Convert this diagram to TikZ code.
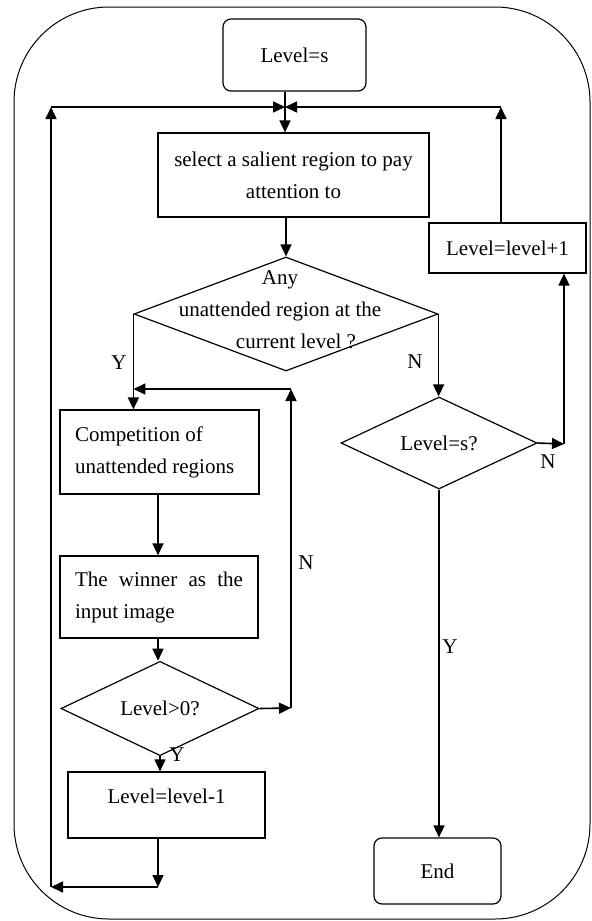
\documentclass[tikz,border=0pt]{standalone}
\usepackage{fontspec}
\setmainfont{Liberation Serif}
\usepackage{tikz}
\usetikzlibrary{arrows.meta,shapes.geometric}

\tikzset{
  flowbox/.style={draw, line width=0.6pt, inner sep=0pt, align=center},
  endbox/.style={flowbox, rounded corners=4pt},
  decision/.style={draw, diamond, line width=0.6pt, inner sep=0pt},
  arr/.style={line width=0.8pt, -{Triangle[length=6pt,width=5.5pt]}},
  yn/.style={inner sep=0pt}
}

\begin{document}
\begin{tikzpicture}[x=0.5pt, y=-0.5pt, font=\fontsize{10.5pt}{16pt}\selectfont]
  \useasboundingbox (0,0) rectangle (591,921);
  \draw[line width=0.5pt, rounded corners=47.5pt] (14,7) rectangle (590,919);

  % boxes
  \node[endbox, minimum width=71.5pt, minimum height=36pt] (start) at (294.5,55) {Level=s};
  \node[flowbox, minimum width=135.5pt, minimum height=42pt] (sel) at (293.5,175)
    {select a salient region to pay\\attention to};
  \node[decision, minimum width=152pt, minimum height=57pt] (any) at (286,314) {};
  \node[align=center, inner sep=0pt] (anytxt) at (280,309.5)
    {Any\\unattended region at the\hspace*{15pt}\\\hspace*{16pt}current level ?};
  \node[flowbox, minimum width=78.5pt, minimum height=25pt] (lp1) at (507.5,248) {Level=level+1};
  \node[decision, minimum width=98pt, minimum height=33pt] (lvs) at (439,443) {Level=s?};
  \node[flowbox, minimum width=99.5pt, minimum height=42pt, text width=84.5pt, align=flush left]
    (comp) at (159.5,452) {Competition of unattended regions};
  \node[flowbox, minimum width=99pt, minimum height=41pt, text width=84pt, align=justify]
    (win) at (159,597) {The winner as the input image};
  \node[decision, minimum width=99pt, minimum height=35.5pt] (gt) at (160,708.5) {Level>0?};
  \node[flowbox, minimum width=98.5pt, minimum height=33pt, text depth=9pt] (lm) at (166.5,805)
    {Level=level-1};
  \node[endbox, minimum width=63.5pt, minimum height=33pt] (fin) at (437.5,871) {End};

  % Y / N
  \node[yn] (yany) at (119,363) {Y};
  \node[yn] (nany) at (415,362) {N};
  \node[yn] (nlvs) at (548,462) {N};
  \node[yn] (ylvs) at (450,647) {Y};
  \node[yn] (ngt) at (306,563) {N};
  \node[yn] (ygt) at (177,755) {Y};

  % corner points
  \coordinate (jn) at (285,107);
  \coordinate (ll) at (51,107);
  \coordinate (rr) at (501,107);
  \coordinate (lc) at (51,887);
  \coordinate (lb) at (158,887);
  \coordinate (rc) at (564,444);
  \coordinate (lp) at (291,389);
  \coordinate (lpb) at (291,708);

  % connectors
  \draw[arr] (start.south -| jn) -- (sel.north -| jn);
  \draw[arr] (ll) -- (jn);
  \draw[arr] (rr) -- (jn);
  \draw[arr] (lp1.north -| rr) -- (rr);
  \draw[arr] (sel.south -| any.north) -- (any.north);
  \draw[arr] (any.west) -- (any.west |- comp.north);
  \draw[arr] (any.east) -- (any.east |- lvs.north);
  \draw[arr] (lvs.east) -- (rc);
  \draw[arr] (rc) -- (rc |- lp1.south);
  \draw[arr] (lvs.south) -- (lvs.south |- fin.north);
  \draw[arr] (comp.south -| lb) -- (win.north -| lb);
  \draw[arr] (win.south -| lb) -- (gt.north -| lb);
  \draw[arr] (gt.east) -- (lpb);
  \draw[arr] (lpb) -- (lp);
  \draw[arr] (lp) -- (lp -| any.west);
  \draw[arr] (gt.south) -- (gt.south |- lm.north);
  \draw[arr] (lm.south -| lb) -- (lb);
  \draw[arr] (lb) -- (lc);
  \draw[arr] (lc) -- (ll);
\end{tikzpicture}
\end{document}
